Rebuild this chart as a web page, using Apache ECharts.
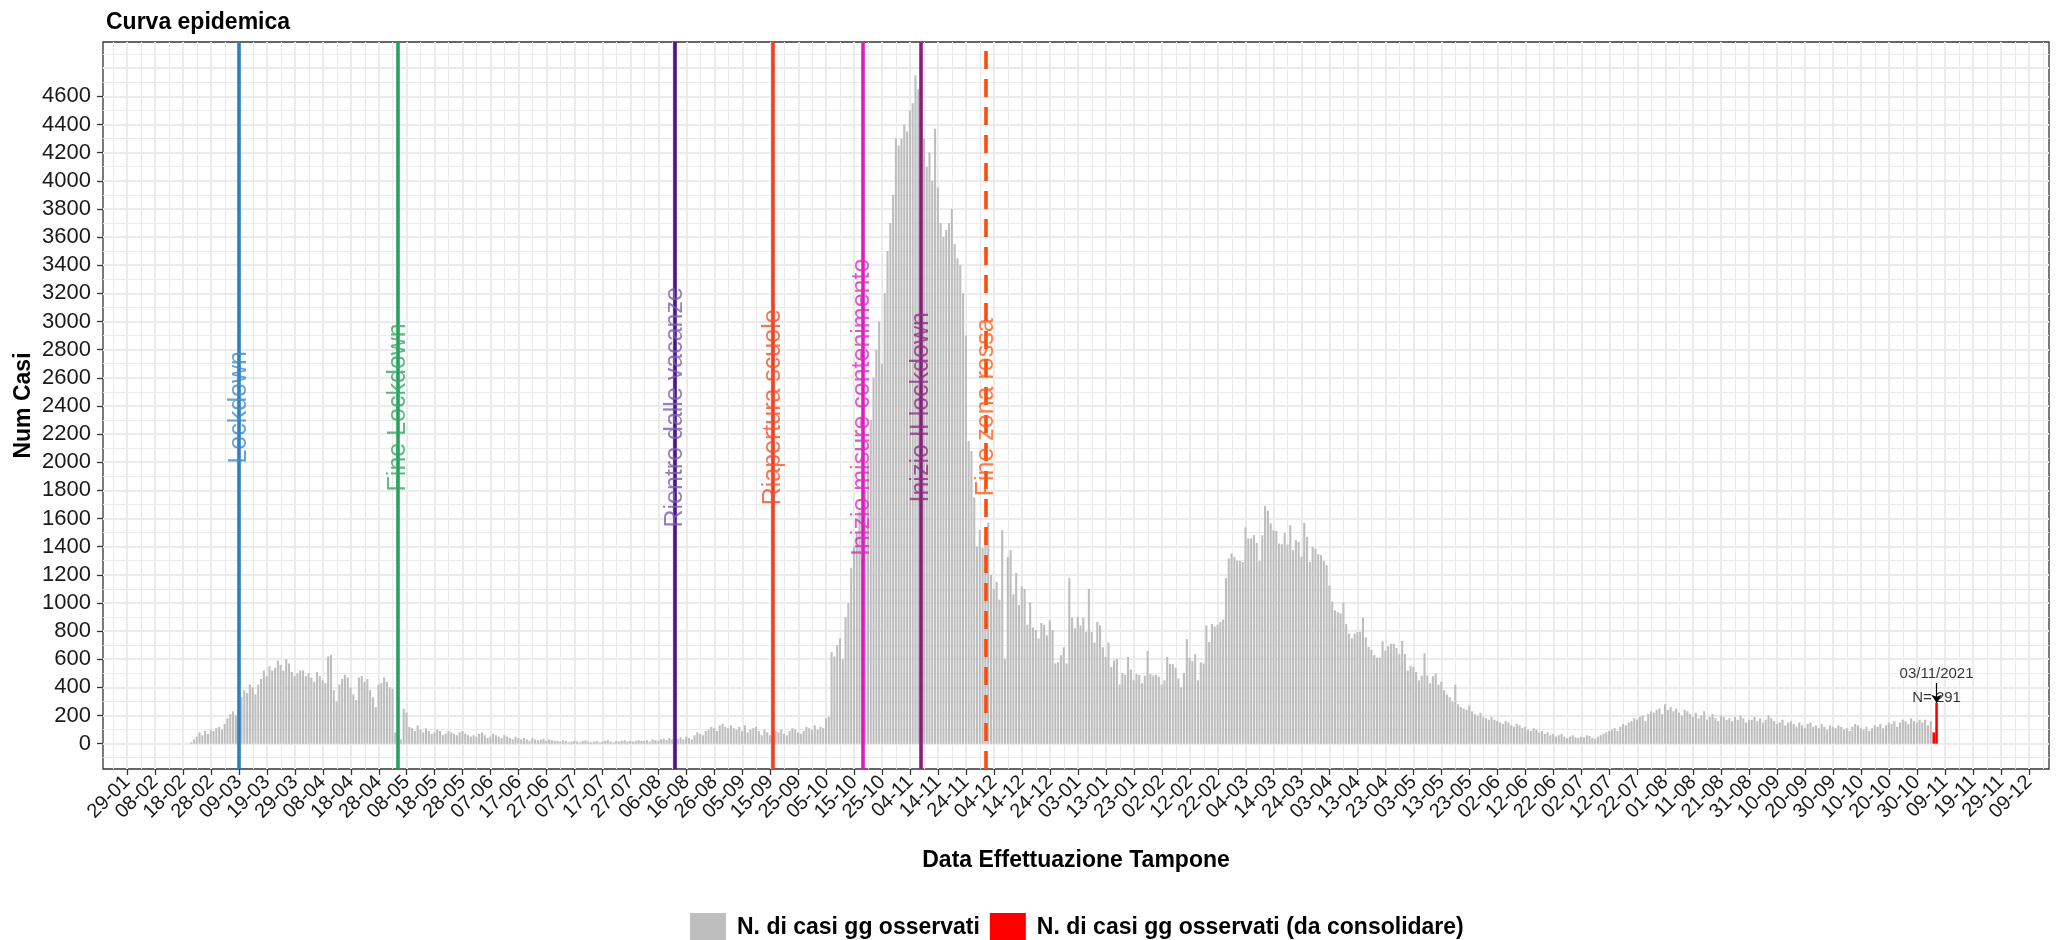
<!DOCTYPE html>
<html><head><meta charset="utf-8">
<script src="https://cdn.jsdelivr.net/npm/echarts@6/dist/echarts.min.js"></script>
<style>html,body{margin:0;padding:0;background:#fff}#c{width:2067px;height:940px}</style>
</head><body><div id="c"></div>
<script>
// ---------------- DATA ----------------
const ORIGIN_DATE = '2020-01-29'; // first x tick
const X_TICK_LABELS = ['29-01','08-02','18-02','28-02','09-03','19-03','29-03','08-04','18-04','28-04','08-05','18-05','28-05','07-06','17-06','27-06','07-07','17-07','27-07','06-08','16-08','26-08','05-09','15-09','25-09','05-10','15-10','25-10','04-11','14-11','24-11','04-12','14-12','24-12','03-01','13-01','23-01','02-02','12-02','22-02','04-03','14-03','24-03','03-04','13-04','23-04','03-05','13-05','23-05','02-06','12-06','22-06','02-07','12-07','22-07','01-08','11-08','21-08','31-08','10-09','20-09','30-09','10-10','20-10','30-10','09-11','19-11','29-11','09-12'];
const X_TICK_STEP = 10;
const Y_TICK_LABELS = [0,200,400,600,800,1000,1200,1400,1600,1800,2000,2200,2400,2600,2800,3000,3200,3400,3600,3800,4000,4200,4400,4600];

const observedStart = '2020-02-21';
const feb2020 = [10,30,50,80,60,90,70,100,90];
const mar2020 = [110,120,100,140,180,210,230,200,240,330,380,360,420,400,350,420,460,520,480,550,520,540,590,560,520,600,570,510,480,500,520];
const apr2020 = [520,480,500,470,440,510,480,450,430,620,630,380,300,420,460,490,470,400,350,310,470,480,440,460,380,330,260,420,430,470];
const may2020 = [440,400,390,80,40,30,250,220,120,110,90,130,100,80,110,90,70,80,100,90,60,70,90,80,70,60,80,90,70,60,50];
const jun2020 = [60,50,70,80,60,40,50,70,60,50,40,60,50,40,30,50,40,30,40,30,20,40,30,25,30,35,20,30,25,20];
const jul2020 = [20,15,25,20,10,15,20,15,10,20,25,15,10,15,20,10,15,20,25,15,10,20,15,20,25,15,20,15,20,25,20];
const aug2020 = [20,25,15,30,25,20,30,35,25,40,30,20,35,45,30,50,40,30,60,80,70,60,90,100,120,110,90,130,140,120,110];
const sep2020 = [130,110,100,120,90,130,80,100,110,120,90,60,100,80,60,70,90,80,100,70,60,90,110,100,80,70,90,120,110,100];
const oct2020 = [130,100,120,110,180,190,650,620,700,750,600,900,1000,1250,1400,1500,1650,1300,1800,2000,2300,2600,2800,3000,2700,3200,3500,3700,3900,4300,4250];
const nov2020 = [4300,4400,4350,4500,4550,4750,4650,4450,4300,4100,4200,4000,4370,3950,3700,3600,3650,3700,3800,3550,3450,3400,3200,2900,2150,2080,1750,1400,1520,1390];
const dec2020 = [1480,1570,1200,1100,1150,1023,1517,603,1325,1375,1061,1214,985,1117,1100,845,1003,825,807,748,858,845,769,876,807,570,578,629,685,570,1176];
const jan2021 = [896,820,901,840,896,794,1100,794,718,865,840,685,616,718,545,591,601,420,502,489,616,527,450,494,489,430,484,659,494,484,489];
const feb2021 = [476,420,450,616,565,565,540,463,400,502,743,611,586,636,450,578,570,840,723,850,832,845,865,883,1176,1315,1351,1327];
const mar2021 = [1300,1299,1290,1536,1458,1458,1481,1427,1300,1481,1690,1655,1565,1517,1512,1422,1417,1498,1415,1553,1375,1446,1434,1327,1569,1470,1292,1398,1387,1346,1339];
const apr2021 = [1299,1268,1125,1010,947,934,926,1003,850,781,748,781,794,794,896,756,687,667,629,611,611,728,662,692,710,710,680,636,731,636];
const may2021 = [519,553,545,509,450,484,641,484,430,480,500,420,440,380,350,330,300,420,280,260,250,240,270,230,210,200,220,190,180,170,190];
const jun2021 = [170,160,150,140,160,150,130,120,140,130,110,120,100,90,110,100,80,90,70,80,60,70,50,60,70,50,40,50,60,45];
const jul2021 = [40,50,45,60,55,40,35,50,60,70,80,90,100,110,90,120,140,130,150,160,180,170,190,200,160,210,230,220,240,250,210];
const aug2021 = [280,240,260,230,250,220,200,240,230,210,190,220,180,200,230,170,190,210,180,160,200,190,170,180,160,190,170,200,180,150,170];
const sep2021 = [170,190,160,180,150,170,200,180,160,140,150,170,130,150,160,140,120,150,130,110,140,150,120,130,110,140,120,100,130,120];
const oct2021 = [110,130,120,100,110,90,120,140,130,110,100,120,90,110,130,120,140,110,130,150,140,160,120,150,170,160,140,180,160,150,170];
const nov2021 = [150,170,130,160];

const consolidateStart = '2021-11-05';
const daConsolidare = [80, 291];

const annotationText = ['03/11/2021', 'N= 291'];

const eventNames = ['Lockdown','Fine Lockdown','Rientro dalle vacanze','Riapertura scuole','Inizio misure contenimento','Inizio II lockdown','Fine zona rossa'];
const eventDates = ['2020-03-09','2020-05-05','2020-08-12','2020-09-16','2020-10-18','2020-11-08','2020-12-01'];
const eventDashed = [false,false,false,false,false,false,true];

const seriesNames = ['N. di casi gg osservati','N. di casi gg osservati (da consolidare)'];

// ---------------- STYLE ----------------
const eventLineColors = ['#2F7EC1','#27A25A','#4A1486','#F23E1E','#DE1CC2','#8A1C7C','#FF4A0A'];
const eventTextColors = ['#3D8ACB','#33A864','#7D5CB6','#F2502E','#DC2BC6','#8D2D85','#FF5A14'];
const LABEL_Y = 2390;
const X_MIN = -8.6, X_MAX = 687.2;
const Y_MIN = -180, Y_MAX = 4986;
const FONT = 'Liberation Sans, Arial, sans-serif';

// ---------------- BUILD ----------------
const DAY = 86400000;
function dayOf(s){const p=s.split('-').map(Number);const o=ORIGIN_DATE.split('-').map(Number);return Math.round((Date.UTC(p[0],p[1]-1,p[2])-Date.UTC(o[0],o[1]-1,o[2]))/DAY);}
const observed = [].concat(feb2020,mar2020,apr2020,may2020,jun2020,jul2020,aug2020,sep2020,oct2020,nov2020,dec2020,jan2021,feb2021,mar2021,apr2021,may2021,jun2021,jul2021,aug2021,sep2021,oct2021,nov2021);
const obsStart = dayOf(observedStart);
const obsData = observed.map((v,i)=>[obsStart+i, v]);
const conStart = dayOf(consolidateStart);
const conData = daConsolidare.map((v,i)=>[conStart+i, v]);
const lastRed = conData[conData.length-1];

const majorX = X_TICK_LABELS.map((_,i)=>i*X_TICK_STEP);
const evenX = majorX.filter((_,i)=>i%2===0);
const oddX = majorX.filter((_,i)=>i%2===1);
const minorX = []; for (let d=-5; d<=X_MAX; d+=X_TICK_STEP) minorX.push(d);
const majorY = []; for (let v=0; v<=Y_MAX; v+=200) majorY.push(v);
const minorY = []; for (let v=-100; v<=Y_MAX; v+=200) minorY.push(v);

const GRID_C = '#EBEBEB';
function hiddenAxis(type, ticks, width){
  return {type:'value', show:true, position: type==='x'?'bottom':'left',
    min: type==='x'?X_MIN:Y_MIN, max: type==='x'?X_MAX:Y_MAX,
    axisLine:{show:false, onZero:false}, axisLabel:{show:false},
    axisTick:{show:false, customValues:ticks},
    splitLine:{show:true, lineStyle:{color:GRID_C, width:width}}};
}
function labelXAxis(ticks, withName){
  const ax = {type:'value', min:X_MIN, max:X_MAX, position:'bottom',
     axisLine:{show:false, onZero:false},
     axisTick:{show:true, customValues:ticks, length:6, lineStyle:{color:'#333', width:1.3}},
     axisLabel:{show:true, customValues:ticks, showMinLabel:true, showMaxLabel:true, rotate:45, margin:10, fontFamily:FONT, fontSize:20, color:'#1a1a1a',
       formatter:(v)=>X_TICK_LABELS[Math.round(v/X_TICK_STEP)]||''},
     splitLine:{show:false}};
  if (withName) Object.assign(ax, {name:'Data Effettuazione Tampone', nameLocation:'middle', nameGap:80,
     nameTextStyle:{fontFamily:FONT, fontWeight:'bold', fontSize:23, color:'#000'}});
  return ax;
}

const option = {
  animation:false,
  backgroundColor:'#ffffff',
  title:{text:'Curva epidemica', left:101, top:6, textStyle:{fontFamily:FONT, fontWeight:'bold', fontSize:23, color:'#000'}},
  grid:{left:103, right:18, top:42, bottom:171, show:true, borderColor:'#333333', borderWidth:1.3, backgroundColor:'#ffffff', containLabel:false},
  legend:{data:seriesNames, left:685, top:908, icon:'rect', itemWidth:36, itemHeight:30, itemGap:10,
    textStyle:{fontFamily:FONT, fontWeight:'bold', fontSize:23, color:'#000', padding:[0,0,0,6]}},
  xAxis:[
    labelXAxis(evenX, true),
    labelXAxis(oddX, false),
    hiddenAxis('x', majorX, 2),
    hiddenAxis('x', minorX, 1.1)
  ],
  yAxis:[
    {type:'value', min:Y_MIN, max:Y_MAX, position:'left',
     name:'Num Casi', nameLocation:'middle', nameGap:68, nameRotate:90, nameMoveOverlap:false,
     nameTextStyle:{fontFamily:FONT, fontWeight:'bold', fontSize:23, color:'#000'},
     axisLine:{show:false, onZero:false},
     axisTick:{show:true, customValues:Y_TICK_LABELS, length:6, lineStyle:{color:'#333', width:1.3}},
     axisLabel:{show:true, customValues:Y_TICK_LABELS, showMinLabel:true, showMaxLabel:true, margin:12, fontFamily:FONT, fontSize:22, color:'#1a1a1a',
       formatter:(v)=>String(Math.round(v))},
     splitLine:{show:false}},
    hiddenAxis('y', majorY, 2),
    hiddenAxis('y', minorY, 1.1)
  ],
  series:[
    {name:seriesNames[0], type:'bar', xAxisIndex:0, yAxisIndex:0, data:obsData, barWidth:2.1, barGap:'-100%',
     itemStyle:{color:'#BEBEBE'}, silent:true,
     markLine:{silent:true, symbol:'none', label:{show:false}, animation:false,
       data:eventDates.map((d,i)=>({xAxis:dayOf(d), lineStyle:{color:eventLineColors[i], width:3.6, type:eventDashed[i]?[18,10]:'solid'}}))}},
    {name:seriesNames[1], type:'bar', xAxisIndex:0, yAxisIndex:0, data:conData, barWidth:2.6, barGap:'-100%',
     itemStyle:{color:'#FF0000'}, silent:true,
     markLine:{silent:true, symbol:['none','arrow'], symbolSize:8, label:{show:false}, lineStyle:{color:'#000', width:1.2, type:'solid'},
       data:[[{coord:[lastRed[0], lastRed[1]+140]},{coord:[lastRed[0], lastRed[1]]}]]}},
    {name:'eventi', type:'scatter', xAxisIndex:0, yAxisIndex:0, symbolSize:2, itemStyle:{color:'transparent'}, silent:true, z:5,
     data:eventNames.map((n,i)=>({name:n, value:[dayOf(eventDates[i]), LABEL_Y],
       label:{show:true, position:'inside', rotate:90, formatter:'{b}', fontFamily:FONT, fontSize:25, color:eventTextColors[i]}}))},
    {name:'annotazione', type:'scatter', xAxisIndex:0, yAxisIndex:0, symbolSize:2, itemStyle:{color:'transparent'}, silent:true, z:6,
     data:[{value:lastRed, label:{show:true, position:'top', distance:-8, formatter:annotationText.join('\n'), fontFamily:FONT, fontSize:15, lineHeight:24, color:'#000'}}]}
  ]
};
const chart = echarts.init(document.getElementById('c'), null, {renderer:'canvas', width:2067, height:940});
chart.setOption(option);
</script></body></html>
